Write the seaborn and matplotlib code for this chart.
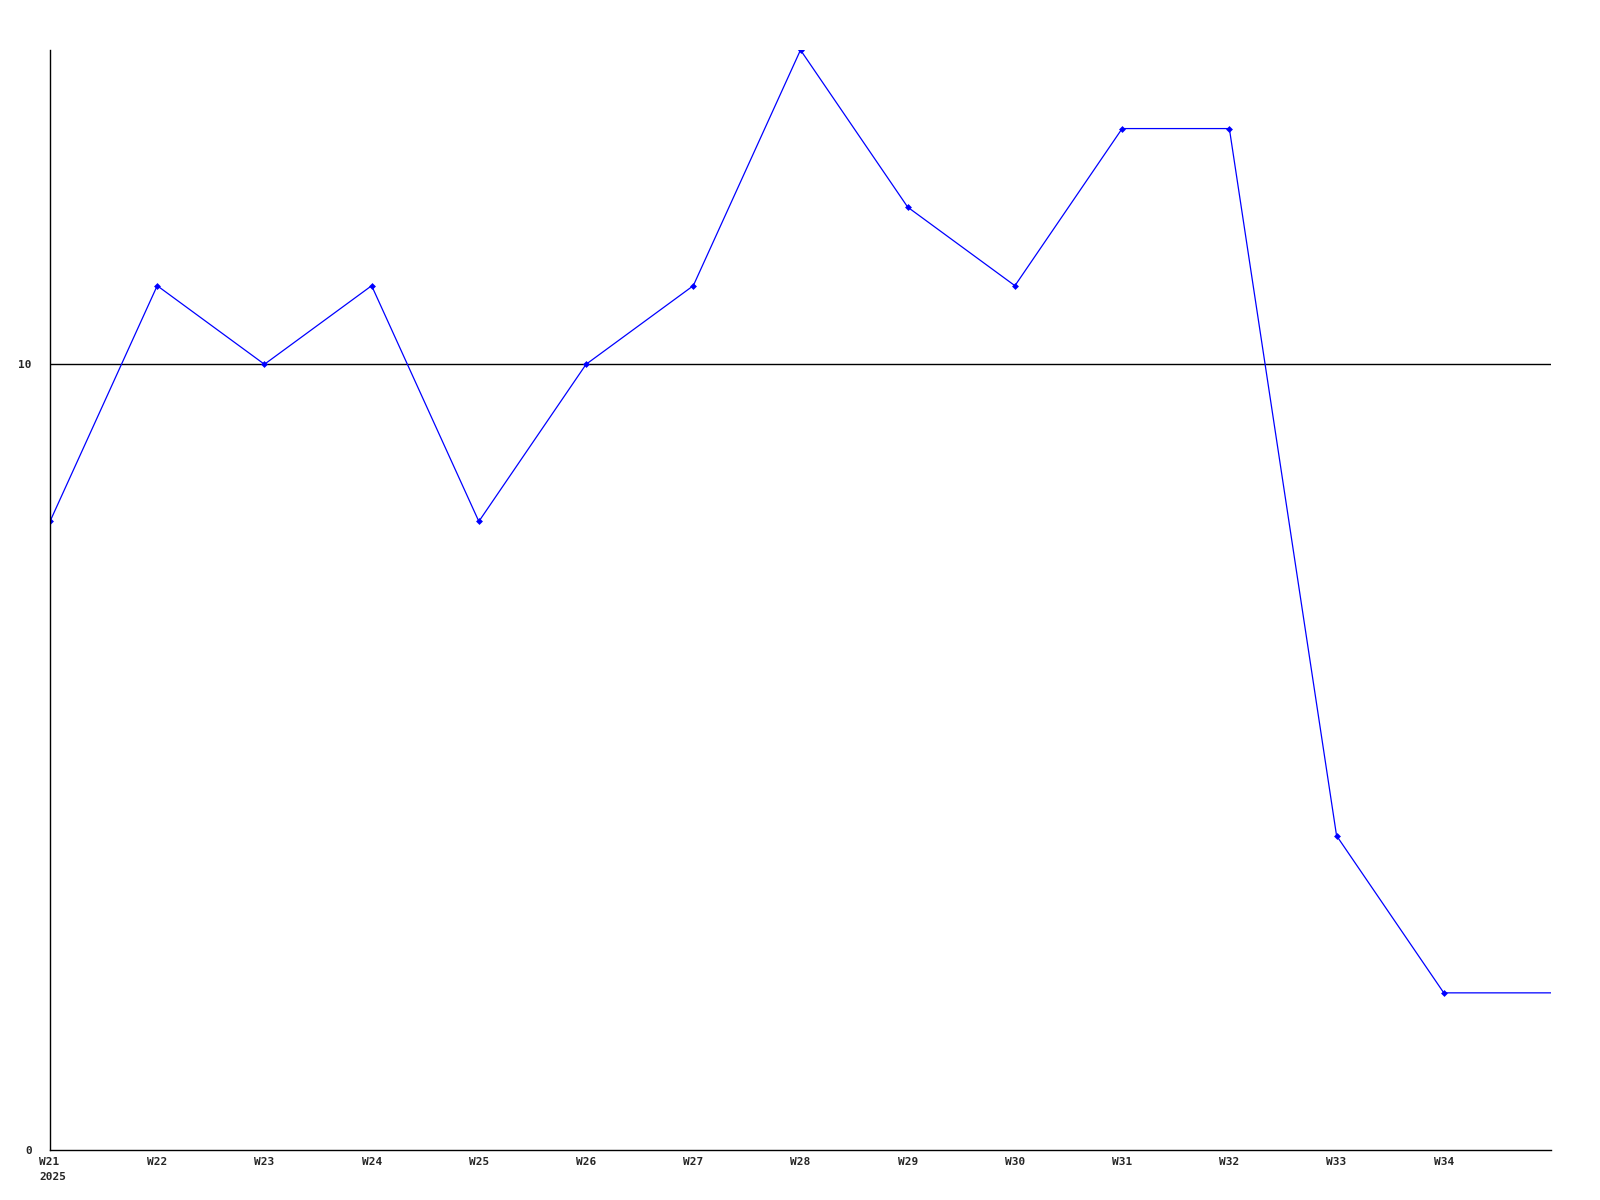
import numpy as np
import pandas as pd
import seaborn as sns
import matplotlib.pyplot as plt
import matplotlib.transforms as mtransforms

weeks = ["W21", "W22", "W23", "W24", "W25", "W26", "W27", "W28",
         "W29", "W30", "W31", "W32", "W33", "W34", "W35"]
counts = [8, 11, 10, 11, 8, 10, 11, 14, 12, 11, 13, 13, 4, 2, 2]
tick_labels = ["W21\n2025", "W22", "W23", "W24", "W25", "W26", "W27", "W28",
               "W29", "W30", "W31", "W32", "W33", "W34"]

df = pd.DataFrame({"week": np.arange(len(weeks)), "count": counts})

sns.set_style("white")
plt.rcParams['font.family'] = ['DejaVu Sans Mono']

fig = plt.figure(figsize=(16, 12), dpi=100)
ax = fig.add_axes([50 / 1600, 50 / 1200, 1501 / 1600, 1100 / 1200])

ax.axhline(10, color="black", lw=1)
sns.lineplot(data=df, x="week", y="count", ax=ax, color="#0000ff", lw=0.9,
             marker="D", markersize=3.5, markeredgewidth=0,
             markevery=list(range(len(weeks) - 1)))

ax.set_xlim(0, len(weeks) - 1)
ax.set_ylim(0, 14)
ax.set_xticks(range(len(tick_labels)))
ax.set_xticklabels(tick_labels, fontsize=8, fontweight="bold",
                   ha="center", va="top", linespacing=1.6)
ax.set_yticks([0, 10])
ax.set_yticklabels(["0", "10"], fontsize=8, fontweight="bold")
ax.tick_params(axis="x", length=0, pad=5)
ax.tick_params(axis="y", length=0, pad=13)

# first label: year sits left-aligned under W21
first = ax.get_xticklabels()[0]
first.set_horizontalalignment("left")
first.set_multialignment("left")
first.set_transform(first.get_transform() +
                    mtransforms.ScaledTranslation(-11 / 100, 0, fig.dpi_scale_trans))

ax.set_xlabel("")
ax.set_ylabel("")
for s in ["top", "right"]:
    ax.spines[s].set_visible(False)
for s in ["left", "bottom"]:
    ax.spines[s].set_color("black")
    ax.spines[s].set_linewidth(1)

fig.savefig("out.png", dpi=100, facecolor="white")
